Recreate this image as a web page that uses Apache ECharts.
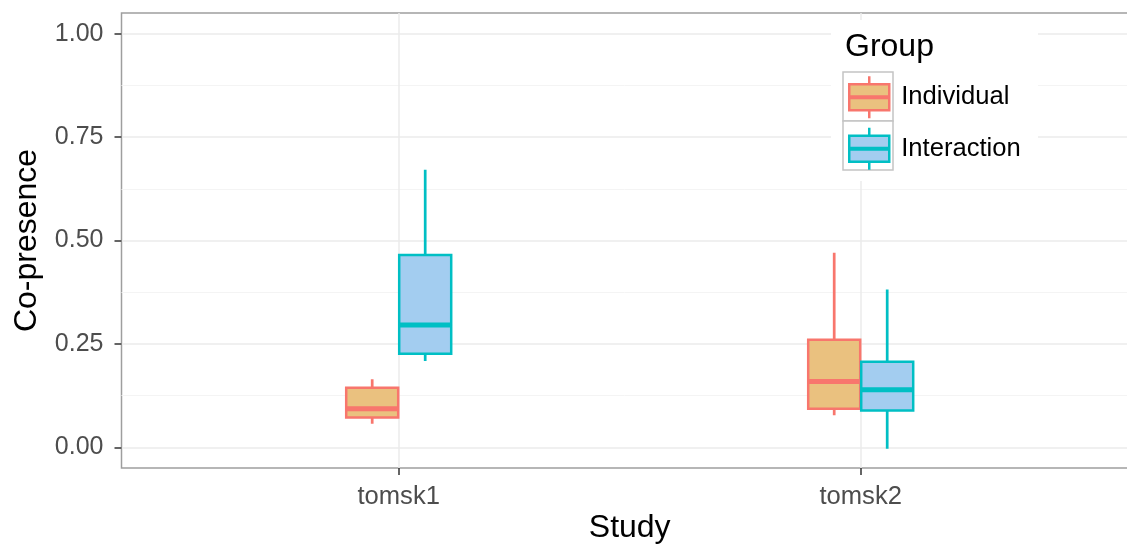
<!DOCTYPE html>
<html><head><meta charset="utf-8">
<script src="https://cdn.jsdelivr.net/npm/echarts@6/dist/echarts.min.js"></script>
<style>html,body{margin:0;padding:0;background:#fff}#c{width:1127px;height:547px}</style>
</head><body><div id="c"></div>
<script>
// ---- data ----
const categories = ['tomsk1', 'tomsk2'];
const groups = ['Individual', 'Interaction'];
const individualMin    = [0.060, 0.081];
const individualQ1     = [0.072, 0.093];
const individualMedian = [0.093, 0.159];
const individualQ3     = [0.144, 0.260];
const individualMax    = [0.161, 0.467];
const interactionMin    = [0.212, 0.000];
const interactionQ1     = [0.226, 0.089];
const interactionMedian = [0.296, 0.139];
const interactionQ3     = [0.465, 0.207];
const interactionMax    = [0.668, 0.378];
const yTicks = [0, 0.25, 0.5, 0.75, 1.0];
const yMinorTicks = [0.125, 0.375, 0.625, 0.875];
const xTickValues = [1, 2];

// ---- layout / style ----
const FONT = '"Liberation Sans", Arial, Helvetica, sans-serif';
const unit = 462, panelLeft = 121.5, panelTop = 13, panelHeight = 455, dodge = 26.5;
const center1 = panelLeft + 0.6 * unit;
const yMin = -0.05, yMax = 1.05;
const fills = ['#EAC17F', '#A3CDF0'];
const strokes = ['#F8766D', '#00BFC4'];

const stats = [
  [individualMin, individualQ1, individualMedian, individualQ3, individualMax],
  [interactionMin, interactionQ1, interactionMedian, interactionQ3, interactionMax]
];

const grids = [
  { left: panelLeft, top: panelTop, width: 2.2 * unit, height: panelHeight, show: true,
    outerBoundsMode: 'none', containLabel: false,
    borderColor: '#9e9e9e', borderWidth: 1.5, backgroundColor: 'transparent' },
  { left: center1 - unit / 2 - dodge, top: panelTop, width: 2 * unit, height: panelHeight,
    outerBoundsMode: 'none', containLabel: false },
  { left: center1 - unit / 2 + dodge, top: panelTop, width: 2 * unit, height: panelHeight,
    outerBoundsMode: 'none', containLabel: false }
];

const xAxes = [
  { type: 'value', gridIndex: 0, min: 0.4, max: 2.6, position: 'bottom',
    name: 'Study', nameLocation: 'middle', nameGap: 44, nameMoveOverlap: false,
    nameTextStyle: { fontSize: 32, color: '#000', fontFamily: FONT },
    axisLine: { show: false, onZero: false },
    axisTick: { show: true, length: 7, customValues: xTickValues, lineStyle: { color: '#333', width: 1.5 } },
    axisLabel: { customValues: xTickValues, margin: 16, fontSize: 25.6, color: '#4D4D4D', fontFamily: FONT,
      formatter: v => categories[Math.round(v) - 1] },
    splitLine: { show: true, lineStyle: { color: '#EBEBEB', width: 1.5 } } }
];

const yAxes = [
  { type: 'value', gridIndex: 0, min: yMin, max: yMax, position: 'left',
    name: 'Co-presence', nameLocation: 'middle', nameGap: 78, nameMoveOverlap: false,
    nameTextStyle: { fontSize: 32, color: '#000', fontFamily: FONT },
    axisLine: { show: false, onZero: false },
    axisTick: { show: true, length: 7, customValues: yTicks, lineStyle: { color: '#333', width: 1.5 } },
    axisLabel: { customValues: yTicks, margin: 18, fontSize: 25, color: '#4D4D4D', fontFamily: FONT,
      formatter: v => v.toFixed(2) },
    splitLine: { show: true, lineStyle: { color: '#EBEBEB', width: 1.5 } } },
  { type: 'value', gridIndex: 0, min: yMin, max: yMax, position: 'left',
    axisLine: { show: false, onZero: false }, axisLabel: { show: false },
    axisTick: { show: false, customValues: yMinorTicks },
    splitLine: { show: true, lineStyle: { color: '#F4F4F4', width: 1 } } },
  { type: 'value', gridIndex: 1, min: yMin, max: yMax, show: false },
  { type: 'value', gridIndex: 2, min: yMin, max: yMax, show: false }
];

const series = [];
groups.forEach((g, gi) => {
  const [mn, q1, md, q3, mx] = stats[gi];
  const parts = [
    { // whiskers
      name: g + ' whisker', boxWidth: [0.01, 0.01],
      itemStyle: { color: strokes[gi], borderColor: strokes[gi], borderWidth: 2.7 },
      data: categories.map((c, i) => [mn[i], mn[i], md[i], mx[i], mx[i]]) },
    { // box body
      name: g, boxWidth: [52, 52],
      itemStyle: { color: fills[gi], borderColor: strokes[gi], borderWidth: 2.5 },
      data: categories.map((c, i) => [q1[i], q1[i], md[i], q3[i], q3[i]]) },
    { // thick median
      name: g + ' median', boxWidth: [52, 52],
      itemStyle: { color: strokes[gi], borderColor: strokes[gi], borderWidth: 5 },
      data: categories.map((c, i) => [md[i], md[i], md[i], md[i], md[i]]) }
  ];
  parts.forEach(p => {
    // each part gets its own category axis so the boxes are not dodged apart
    xAxes.push({ type: 'category', gridIndex: gi + 1, data: categories, show: false });
    series.push(Object.assign({ type: 'boxplot', xAxisIndex: xAxes.length - 1, yAxisIndex: gi + 2,
      silent: true, emphasis: { disabled: true } }, p));
  });
});

const keyIcon = 'path://M0,8L40,8L40,34L0,34Z M20,0L20,8 M20,34L20,42 M0,20.3L40,20.3L40,21.7L0,21.7Z';

const option = {
  animation: false,
  backgroundColor: '#fff',
  grid: grids,
  xAxis: xAxes,
  yAxis: yAxes,
  legend: {
    orient: 'vertical', left: 848, top: 75, padding: 0, itemWidth: 40, itemHeight: 42, itemGap: 7,
    selectedMode: false, z: 6,
    data: groups.map((g, gi) => ({ name: g, icon: keyIcon,
      itemStyle: { color: fills[gi], borderColor: strokes[gi], borderWidth: 2.5 } })),
    textStyle: { fontSize: 25.6, color: '#000', fontFamily: FONT, padding: [2, 0, 0, 7] }
  },
  graphic: [
    { type: 'rect', shape: { x: 831, y: 20, width: 207, height: 161 }, style: { fill: '#fff' }, z: 3 },
    { type: 'rect', shape: { x: 843, y: 72, width: 50, height: 49 }, style: { fill: '#fff', stroke: '#c4c4c4', lineWidth: 1.5 }, z: 3 },
    { type: 'rect', shape: { x: 843, y: 121, width: 50, height: 49 }, style: { fill: '#fff', stroke: '#c4c4c4', lineWidth: 1.5 }, z: 3 },
    { type: 'text', x: 845, y: 47, style: { text: 'Group', font: '32px ' + FONT, fill: '#000', verticalAlign: 'middle' }, z: 5 }
  ],
  series: series
};

const chart = echarts.init(document.getElementById('c'));
chart.setOption(option);
</script>
</body></html>
